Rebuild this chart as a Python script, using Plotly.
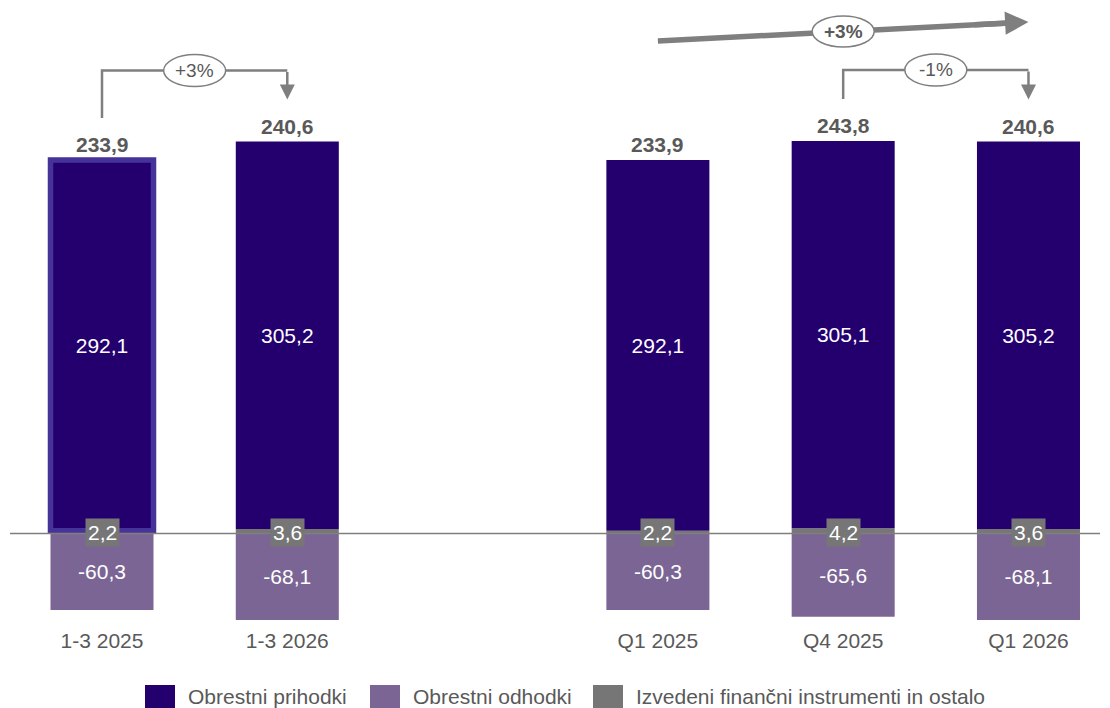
import plotly.graph_objects as go

# ---- data -------------------------------------------------------------
categories = ["1-3 2025", "1-3 2026", "Q1 2025", "Q4 2025", "Q1 2026"]
obrestni_prihodki = [292.1, 305.2, 292.1, 305.1, 305.2]
obrestni_odhodki = [-60.3, -68.1, -60.3, -65.6, -68.1]
izvedeni_ostalo = [2.2, 3.6, 2.2, 4.2, 3.6]
neto_skupaj = [233.9, 240.6, 233.9, 243.8, 240.6]
series_names = ["Obrestni prihodki", "Obrestni odhodki",
                "Izvedeni finančni instrumenti in ostalo"]
# period-over-period changes: (from category, to category, label)
spremembe = [(0, 1, "+3%"), (3, 4, "-1%")]
letna_sprememba = (2, 4, "+3%")

# ---- style ------------------------------------------------------------
FONT = "Liberation Sans, Arial, sans-serif"
FS = 21
C_PRIH = "#24006f"
C_ODH = "#7b6594"
C_OST = "#767676"
C_HILITE = "#46339a"
C_TEXT = "#595959"
C_ARROW = "#7f7f7f"

W, H = 1110, 708
PL, PR, PT, PB = 10, 1100, 0, 622          # plot area in pixels
X_RANGE = [-0.4965, 5.386]
Y_RANGE = [-69.74, 420.4]

# two groups of bars separated by one empty slot
x_pos = [0, 1, 3, 4, 5]
BAR_W = 0.556


def fmt(v):
    return f"{v:.1f}".replace(".", ",")


def px_to_y(py):
    return Y_RANGE[1] - (py - PT) / (PB - PT) * (Y_RANGE[1] - Y_RANGE[0])


def dy(pixels):
    return pixels / (PB - PT) * (Y_RANGE[1] - Y_RANGE[0])


def dx(pixels):
    return pixels / (PR - PL) * (X_RANGE[1] - X_RANGE[0])


fig = go.Figure()

fig.add_trace(go.Bar(
    name=series_names[2], x=x_pos, y=izvedeni_ostalo, width=BAR_W,
    marker=dict(color=C_OST, line=dict(width=0)),
    showlegend=False, hoverinfo="skip",
))
fig.add_trace(go.Bar(
    name=series_names[0], x=x_pos, y=obrestni_prihodki, width=BAR_W,
    marker=dict(color=C_PRIH,
                line=dict(color=[C_HILITE] + [C_PRIH] * 4,
                          width=[5.5, 0, 0, 0, 0])),
    text=[fmt(v) for v in obrestni_prihodki],
    textposition="inside", insidetextanchor="middle",
    textfont=dict(family=FONT, size=FS, color="white"),
    showlegend=False,
))
fig.add_trace(go.Bar(
    name=series_names[1], x=x_pos, y=obrestni_odhodki, width=BAR_W,
    marker=dict(color=C_ODH, line=dict(width=0)),
    text=[fmt(v) for v in obrestni_odhodki],
    textposition="inside", insidetextanchor="middle",
    textfont=dict(family=FONT, size=FS, color="white"),
    showlegend=False,
))

shapes = []
annotations = []

# zero line
shapes.append(dict(type="line", xref="paper", yref="y", x0=0, x1=1, y0=0, y1=0,
                   line=dict(color=C_ARROW, width=1.5), layer="above"))

bar_tops = [o + p for o, p in zip(izvedeni_ostalo, obrestni_prihodki)]

for i, xp in enumerate(x_pos):
    # small "other" value label box on the zero line
    annotations.append(dict(
        x=xp, y=0, xref="x", yref="y", text=fmt(izvedeni_ostalo[i]),
        showarrow=False, bgcolor=C_OST, borderpad=2,
        font=dict(family=FONT, size=FS, color="white"),
        xanchor="center", yanchor="middle", yshift=1,
    ))
    # net total above the stack
    annotations.append(dict(
        x=xp, y=bar_tops[i], xref="x", yref="y",
        text=f"<b>{fmt(neto_skupaj[i])}</b>", showarrow=False,
        font=dict(family=FONT, size=FS, color=C_TEXT),
        xanchor="center", yanchor="bottom", yshift=2,
    ))


def ellipse(xc, yc, w_px, h_px, label, bold=False):
    shapes.append(dict(
        type="circle", xref="x", yref="y",
        x0=xc - dx(w_px / 2), x1=xc + dx(w_px / 2),
        y0=yc - dy(h_px / 2), y1=yc + dy(h_px / 2),
        fillcolor="white", line=dict(color=C_ARROW, width=1.5), layer="above",
    ))
    txt = f"<b>{label}</b>" if bold else label
    annotations.append(dict(
        x=xc, y=yc, xref="x", yref="y", text=txt, showarrow=False,
        font=dict(family=FONT, size=19, color=C_TEXT),
        xanchor="center", yanchor="middle",
    ))


# bracket arrows between two bars
for a, b, label in spremembe:
    xa, xb = x_pos[a], x_pos[b]
    y_start = bar_tops[a] + dy(42)
    y_tip = bar_tops[b] + dy(42)
    y_level = max(bar_tops[a], bar_tops[b]) + dy(71)
    shapes.append(dict(
        type="path", xref="x", yref="y",
        path=f"M {xa},{y_start} V {y_level} H {xb}",
        line=dict(color=C_ARROW, width=2.5), layer="above",
    ))
    annotations.append(dict(
        x=xb, y=y_tip, ax=xb, ay=y_level, xref="x", yref="y",
        axref="x", ayref="y", text="", showarrow=True,
        arrowhead=2, arrowsize=1.2, arrowwidth=2.5, arrowcolor=C_ARROW,
    ))
    ellipse((xa + xb) / 2, y_level, 62, 32, label)

# long trend arrow over the quarterly group: shaft as a shape (so the
# label ellipse sits on top of it), head as a short annotation arrow
a, b, label = letna_sprememba
xa, xb = x_pos[a], x_pos[b]
ya, yb = px_to_y(41), px_to_y(22)


def along(frac):
    return xb - (xb - xa) * frac, yb - (yb - ya) * frac


xs, ys = along(0.05)      # shaft end, hidden under the head
xh, yh = along(0.15)      # start of the head annotation
shapes.append(dict(
    type="line", xref="x", yref="y", x0=xa, y0=ya, x1=xs, y1=ys,
    line=dict(color=C_ARROW, width=5.5), layer="above",
))
annotations.append(dict(
    x=xb, y=yb, ax=xh, ay=yh, xref="x", yref="y",
    axref="x", ayref="y", text="", showarrow=True,
    arrowhead=2, arrowsize=0.85, arrowwidth=5.5, arrowcolor=C_ARROW,
))
ellipse((xa + xb) / 2, (ya + yb) / 2, 62, 31, label, bold=True)

# legend
legend_items = [(series_names[0], C_PRIH, 145), (series_names[1], C_ODH, 370),
                (series_names[2], C_OST, 593)]


def paper_x(px):
    return (px - PL) / (PR - PL)


def paper_y(py):
    return (PB - py) / (PB - PT)


for name, color, left in legend_items:
    shapes.append(dict(
        type="rect", xref="paper", yref="paper",
        x0=paper_x(left), x1=paper_x(left + 30),
        y0=paper_y(708), y1=paper_y(685),
        fillcolor=color, line=dict(width=0),
    ))
    annotations.append(dict(
        x=paper_x(left + 41), y=paper_y(696), xref="paper", yref="paper",
        text=name, showarrow=False, xanchor="left", yanchor="middle",
        font=dict(family=FONT, size=FS, color=C_TEXT),
    ))

fig.update_layout(
    width=W, height=H,
    margin=dict(l=PL, r=W - PR, t=PT, b=H - PB, pad=0),
    barmode="relative",
    plot_bgcolor="white", paper_bgcolor="white",
    showlegend=False,
    uniformtext=dict(mode="show", minsize=10),
    xaxis=dict(range=X_RANGE, tickvals=x_pos, ticktext=categories,
               showgrid=False, zeroline=False, showline=False, ticks="",
               ticklabelstandoff=4,
               tickfont=dict(family=FONT, size=FS, color=C_TEXT),
               fixedrange=True),
    yaxis=dict(range=Y_RANGE, showgrid=False, zeroline=False,
               showticklabels=False, showline=False, fixedrange=True),
    shapes=shapes, annotations=annotations,
    font=dict(family=FONT),
)

fig.write_html("out.html")
